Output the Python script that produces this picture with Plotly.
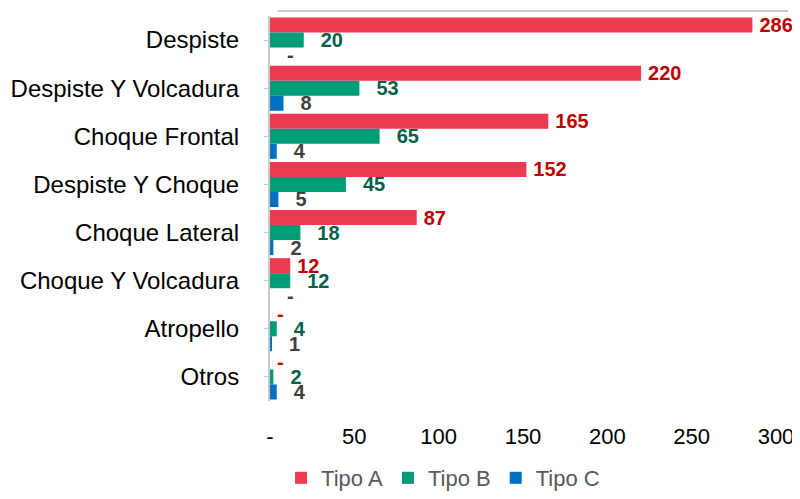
import plotly.graph_objects as go

categories = ["Despiste", "Despiste Y Volcadura", "Choque Frontal", "Despiste Y Choque",
              "Choque Lateral", "Choque Y Volcadura", "Atropello", "Otros"]
tipo_a = [286, 220, 165, 152, 87, 12, 0, 0]
tipo_b = [20, 53, 65, 45, 18, 12, 4, 2]
tipo_c = [0, 8, 4, 5, 2, 0, 1, 4]

x_ticks = [0, 50, 100, 150, 200, 250, 300]
x_tick_text = ["-", "50", "100", "150", "200", "250", "300"]


def fmt(v):
    # zero values show as a dash, like the accounting format in the source
    return "-" if v == 0 else str(v)


# name, values, bar colour, label colour, label gap (unicode spaces)
series = [
    ("Tipo A", tipo_a, "#EE3A50", "#C00000", "\u2009"),
    ("Tipo B", tipo_b, "#009B77", "#00614A", "\u2002\u2009"),
    ("Tipo C", tipo_c, "#0070C0", "#404040", "\u2002\u2009"),
]

FONT = "Liberation Sans, Arial, sans-serif"

fig = go.Figure()
for name, vals, color, label_color, gap in series:
    fig.add_trace(go.Bar(
        y=categories,
        x=vals,
        name=name,
        orientation="h",
        marker=dict(color=color, line=dict(width=0)),
        text=[gap + fmt(v) for v in vals],
        textposition="outside",
        constraintext="none",
        cliponaxis=False,
        textfont=dict(family=FONT, size=20, color=label_color),
        texttemplate="<b>%{text}</b>",
    ))

# light grey back wall edge along the top, as in the 3D original
fig.add_shape(type="line", xref="paper", yref="paper", x0=0.016, x1=1.024, y0=1.013, y1=1.013,
              line=dict(color="#C8C8C8", width=2))

fig.update_layout(
    width=800,
    height=499,
    barmode="group",
    bargap=0.063,
    bargroupgap=0,
    plot_bgcolor="white",
    paper_bgcolor="white",
    margin=dict(l=262, r=32, t=8, b=97),
    font=dict(family=FONT, size=21, color="black"),
    legend=dict(orientation="h", x=0.342, xanchor="center", y=-0.2, yanchor="middle",
                font=dict(family=FONT, size=22, color="#595959"), traceorder="normal",
                itemwidth=30),
    xaxis=dict(range=[0, 300], tickvals=x_ticks, ticktext=x_tick_text,
               showgrid=False, zeroline=False, showline=False, ticks="",
               tickfont=dict(size=22), ticklabelstandoff=20, automargin=False),
    yaxis=dict(autorange="reversed", showgrid=False, showline=True,
               linecolor="#C8C8C8", linewidth=2, ticks="outside",
               tickcolor="#C8C8C8", ticklen=4, ticklabelstandoff=20,
               tickfont=dict(size=24), automargin=False),
)

fig.write_html("out.html")
